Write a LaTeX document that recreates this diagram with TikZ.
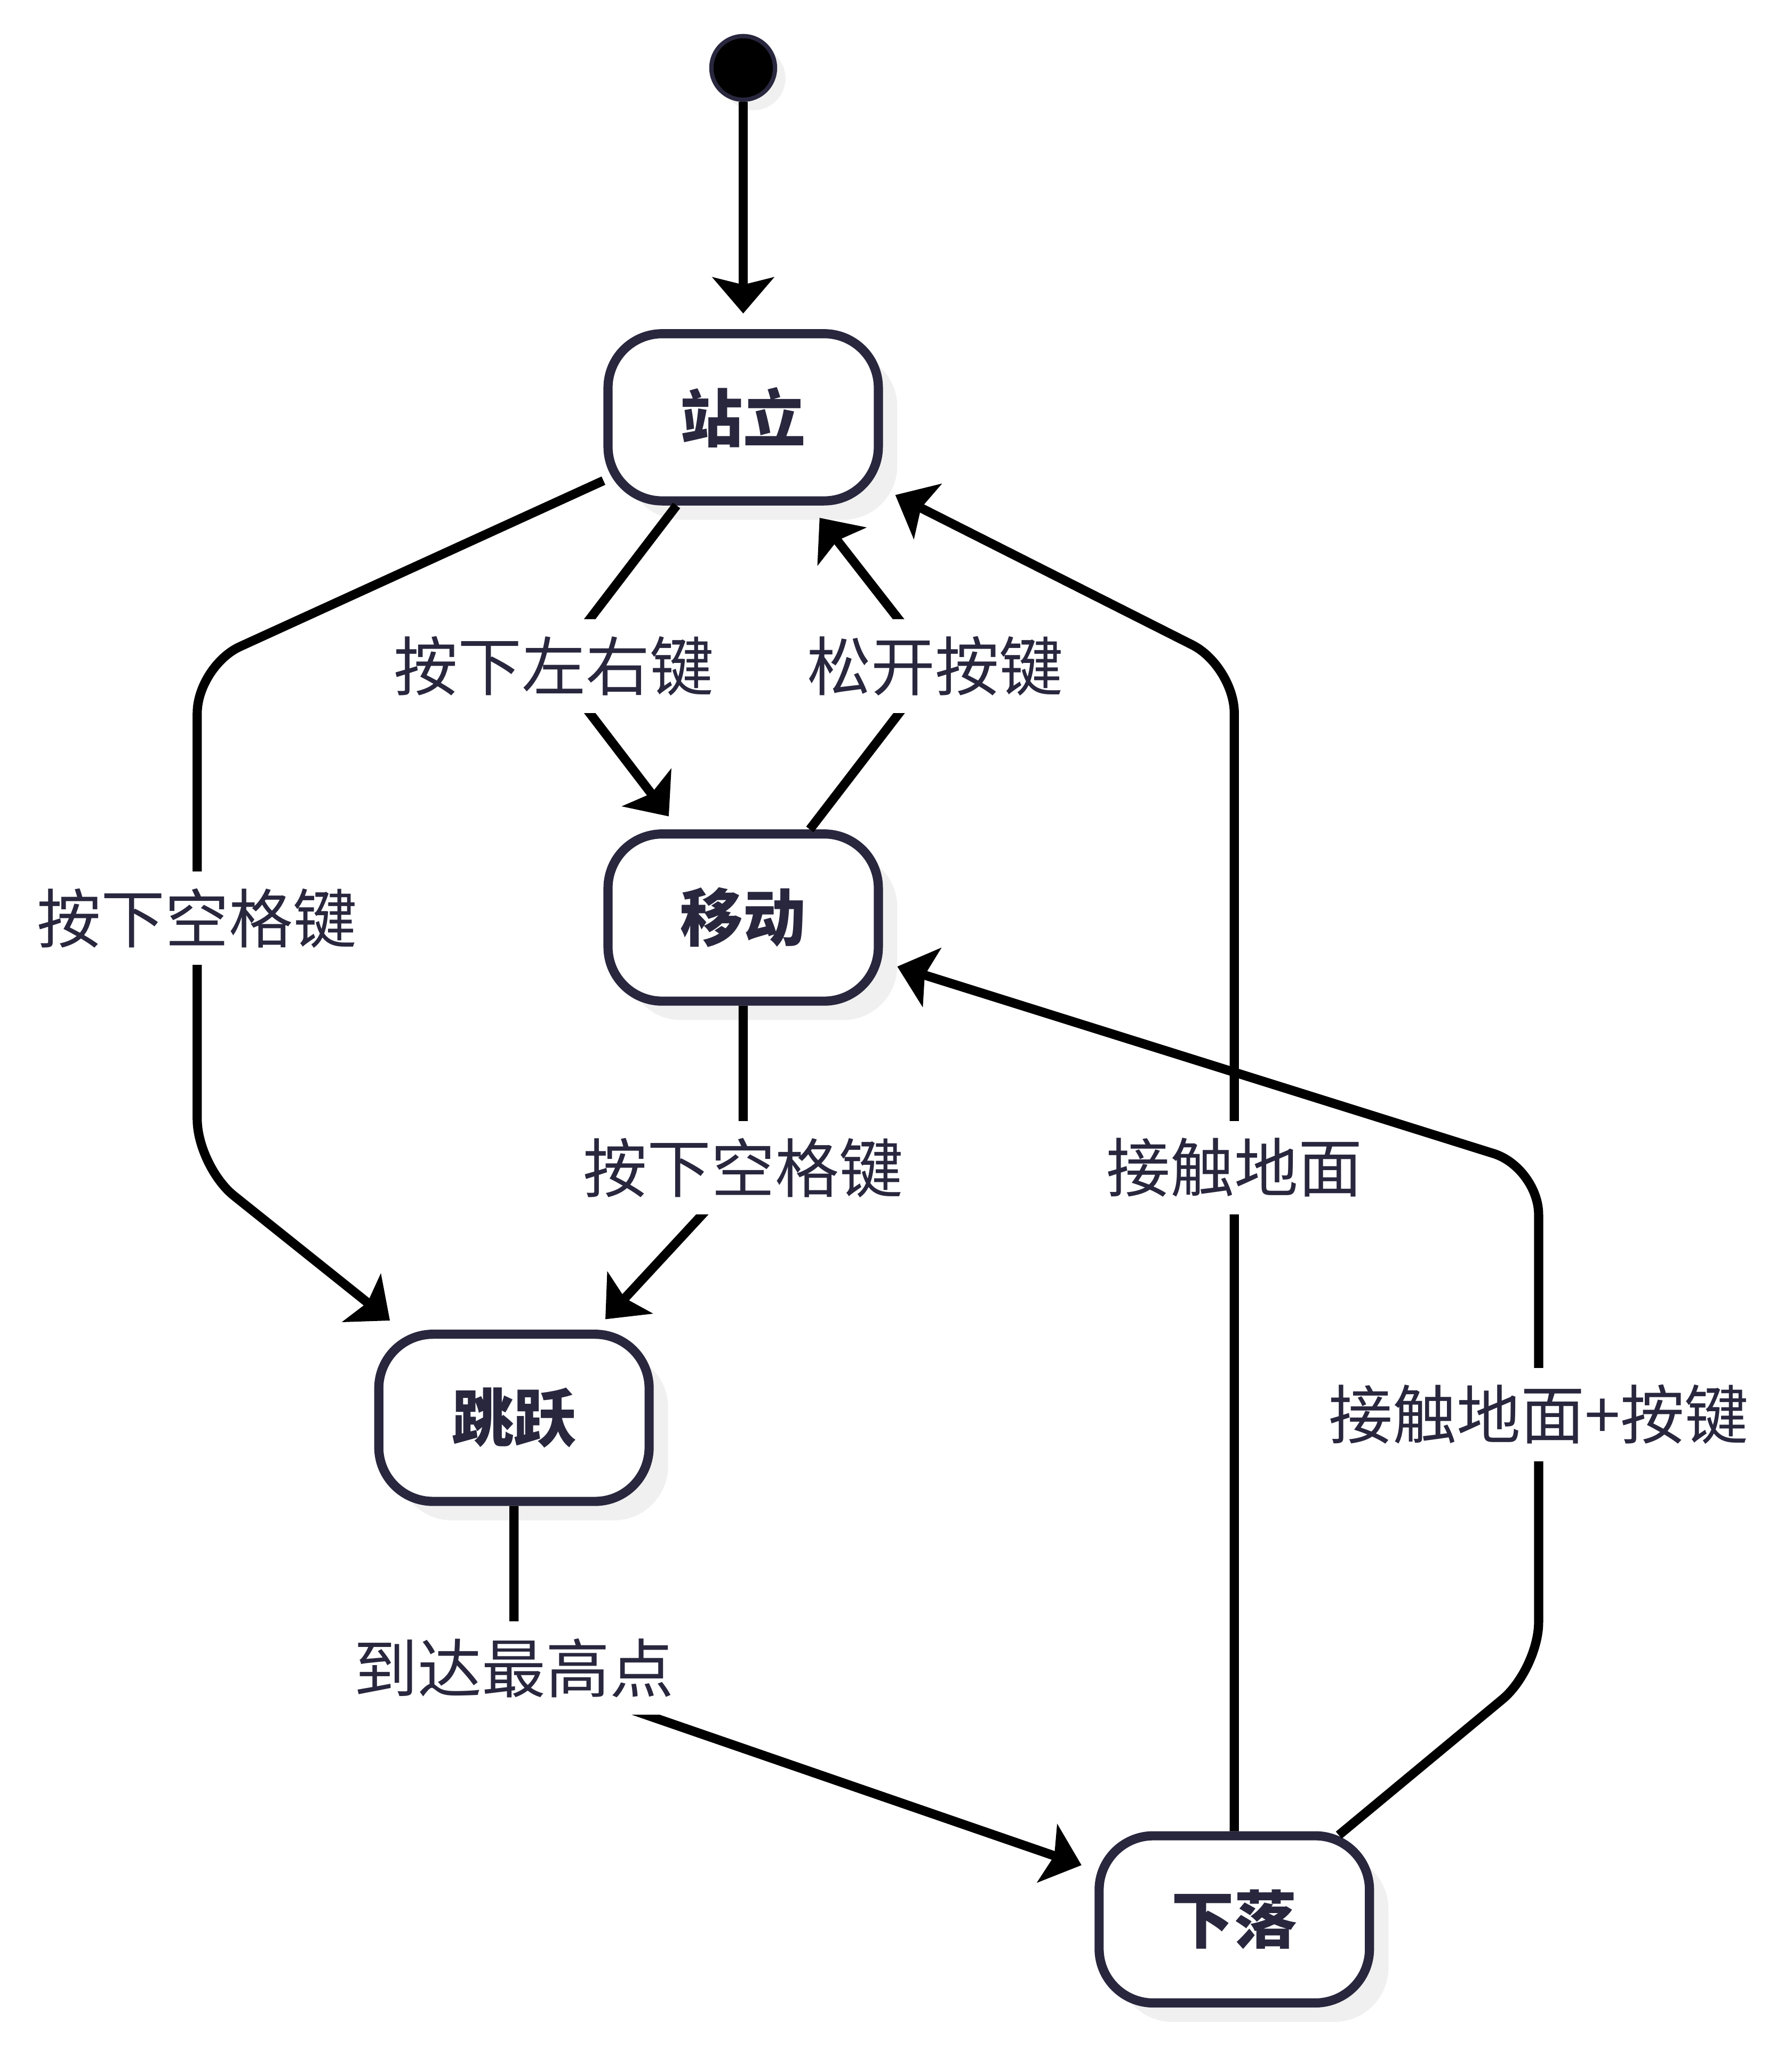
\documentclass[tikz,border=0pt]{standalone}
\usepackage{fontspec}
\setmainfont{Noto Sans CJK SC}
\usetikzlibrary{arrows.meta,shadows}
\definecolor{ink}{HTML}{28273E}
\definecolor{shade}{HTML}{F0F0F0}
\begin{document}
\begin{tikzpicture}[x=1pt,y=-1pt,
  state/.style={draw=ink, line width=7pt, rounded corners=41.5pt, fill=white,
    minimum width=207pt, minimum height=128pt, inner sep=0pt,
    text=ink, font=\bfseries\fontsize{48}{58}\selectfont,
    drop shadow={shadow xshift=14.5pt, shadow yshift=-14.5pt, fill=shade, opacity=1}},
  startdot/.style={circle, draw=ink, line width=3.3pt, fill=black, minimum size=48.7pt, inner sep=0pt,
    drop shadow={shadow xshift=8pt, shadow yshift=-8pt, fill=shade, opacity=1}},
  lbl/.style={fill=white, text=ink, font=\fontsize{49}{58}\selectfont, inner xsep=3pt, inner ysep=13pt},
  tr/.style={draw=black, line width=7pt, rounded corners=36pt,
    -{Stealth[length=28pt, width=48pt, inset=6pt, line width=0pt]}},
]
\useasboundingbox (0,0) rectangle (1372,1568);

% states
\node[startdot] (init) at (569,52) {};
\node[state] (zl) at (569,319.5) {站立};
\node[state] (yd) at (569,702.5) {移动};
\node[state] (jy) at (393.5,1085.5) {跳跃};
\node[state] (xl) at (945,1469.5) {下落};

% bend points of the transitions
\coordinate (a1) at (151,510);
\coordinate (a2) at (151,893);
\coordinate (b1) at (424,510);
\coordinate (c1) at (716,510);
\coordinate (d1) at (569,896);
\coordinate (f1) at (393.5,1278);
\coordinate (g1) at (945,510);
\coordinate (h1) at (1178,1278);
\coordinate (h2) at (1178,894);

% transitions
\draw[tr, shorten >=12pt] (init.south) -- (zl.north);
\draw[tr] ([yshift=-48.5pt]zl.west) -- (a1) -- (a2) -- ([xshift=12pt,yshift=7pt]jy.north west);
\draw[tr] ([xshift=-51pt]zl.south) -- (b1) -- ([xshift=-57pt,yshift=10pt]yd.north);
\draw[tr] ([xshift=51pt]yd.north) -- (c1) -- ([xshift=58.5pt,yshift=-9.5pt]zl.south);
\draw[tr] (yd.south) -- (d1) -- ([xshift=70pt,yshift=8pt]jy.north);
\draw[tr] (jy.south) -- (f1) -- ([xshift=-10pt,yshift=-26pt]xl.north west);
\draw[tr] (xl.north) -- (g1) -- ([xshift=9.5pt,yshift=-59.5pt]zl.east);
\draw[tr] ([xshift=80pt,yshift=-3pt]xl.north) -- (h1) -- (h2) -- ([xshift=11pt,yshift=-37.5pt]yd.east);

% transition labels
\node[lbl] (l1) at (151,703) {按下空格键};
\node[lbl] (l2) at (b1) {按下左右键};
\node[lbl] (l3) at (c1) {松开按键};
\node[lbl] (l4) at (569,894) {按下空格键};
\node[lbl] (l6) at (393.5,1277) {到达最高点};
\node[lbl] (l7) at (945,894) {接触地面};
\node[lbl] (l8) at (1178,1083) {接触地面+按键};
\end{tikzpicture}
\end{document}
